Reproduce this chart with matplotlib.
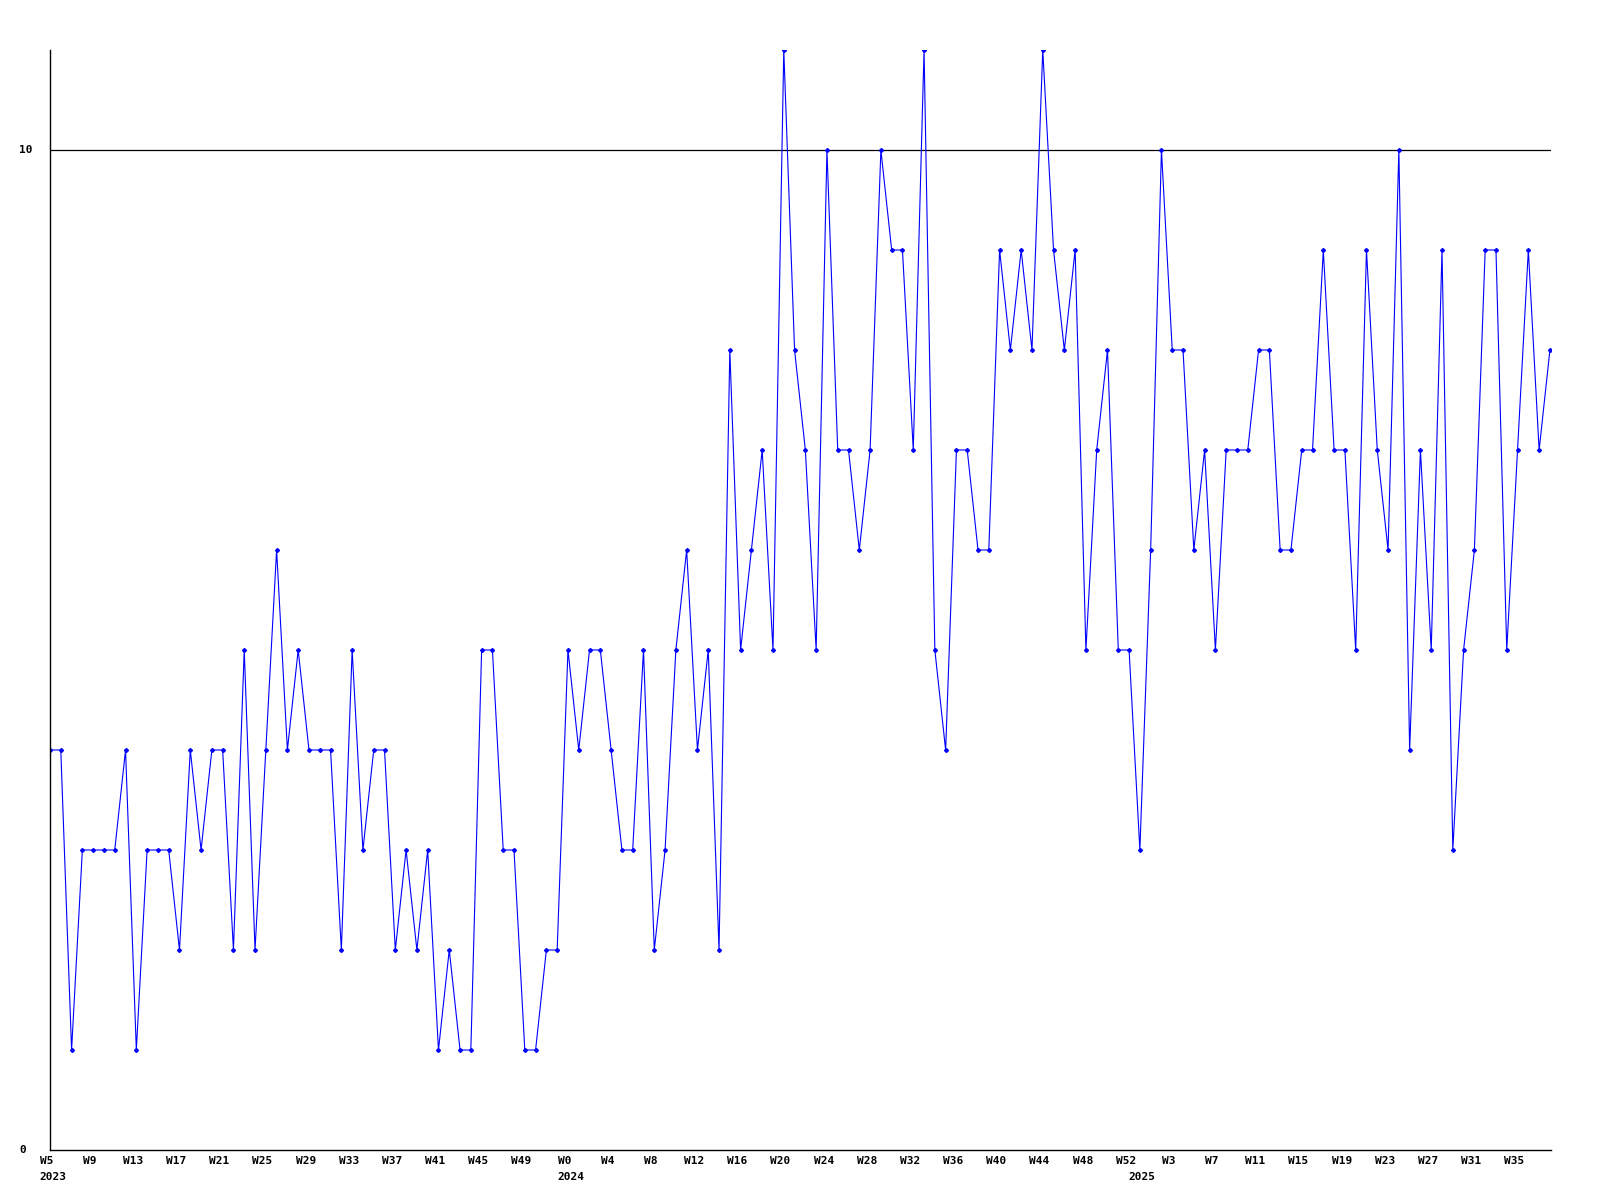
import matplotlib
matplotlib.use("Agg")
import matplotlib.pyplot as plt
import matplotlib.transforms as mtransforms

# weekly counts, 2023 W5 .. 2025 W38
values = [4, 4, 1, 3, 3, 3, 3, 4, 1, 3,
          3, 3, 2, 4, 3, 4, 4, 2, 5, 2,
          4, 6, 4, 5, 4, 4, 4, 2, 5, 3,
          4, 4, 2, 3, 2, 3, 1, 2, 1, 1,
          5, 5, 3, 3, 1, 1, 2, 2, 5, 4,
          5, 5, 4, 3, 3, 5, 2, 3, 5, 6,
          4, 5, 2, 8, 5, 6, 7, 5, 11, 8,
          7, 5, 10, 7, 7, 6, 7, 10, 9, 9,
          7, 11, 5, 4, 7, 7, 6, 6, 9, 8,
          9, 8, 11, 9, 8, 9, 5, 7, 8, 5,
          5, 3, 6, 10, 8, 8, 6, 7, 5, 7,
          7, 7, 8, 8, 6, 6, 7, 7, 9, 7,
          7, 5, 9, 7, 6, 10, 4, 7, 5, 9,
          3, 5, 6, 9, 9, 5, 7, 9, 7, 8]

week_labels = ["W5", "W9", "W13", "W17", "W21", "W25", "W29", "W33", "W37",
               "W41", "W45", "W49", "W0", "W4", "W8", "W12", "W16", "W20",
               "W24", "W28", "W32", "W36", "W40", "W44", "W48", "W52", "W3",
               "W7", "W11", "W15", "W19", "W23", "W27", "W31", "W35"]
year_labels = ["2023", "2024", "2025"]
year_pos = [0.3, 48.3, 101.2]
ytick_vals = [0, 10]

x = list(range(len(values)))

fig = plt.figure(figsize=(16, 12), dpi=100)
ax = fig.add_axes([50 / 1600, 50 / 1200, 1501 / 1600, 1100 / 1200])

ax.plot(x, values, color="#0000ff", linewidth=0.8, marker="D", markersize=2.0,
        markerfacecolor="#0000ff", markeredgecolor="#0000ff")
ax.axhline(10, color="black", linewidth=0.9, zorder=0)

ax.set_xlim(0, len(values) - 1 + 0.1)
ax.set_ylim(0, 11)
for side in ["top", "right"]:
    ax.spines[side].set_visible(False)
for side in ["left", "bottom"]:
    ax.spines[side].set_color("black")
    ax.spines[side].set_linewidth(1)
ax.set_xticks([])
ax.set_yticks([])

font = dict(family="DejaVu Sans Mono", fontsize=8, fontweight="bold", color="black")

# tick labels as plain text
trans_x = mtransforms.blended_transform_factory(ax.transData, fig.transFigure)
for i, lab in enumerate(week_labels):
    ax.text(i * 4 - 0.3, 1 - 1161 / 1200, lab, transform=trans_x,
            ha="center", va="center", **font)
for pos, lab in zip(year_pos, year_labels):
    ax.text(pos, 1 - 1177 / 1200, lab, transform=trans_x,
            ha="center", va="center", **font)

trans_y = mtransforms.blended_transform_factory(fig.transFigure, ax.transData)
for v in ytick_vals:
    ax.text(19 / 1600, v, str(v), transform=trans_y, ha="left", va="center", **font)

fig.savefig("out.png", dpi=100)
